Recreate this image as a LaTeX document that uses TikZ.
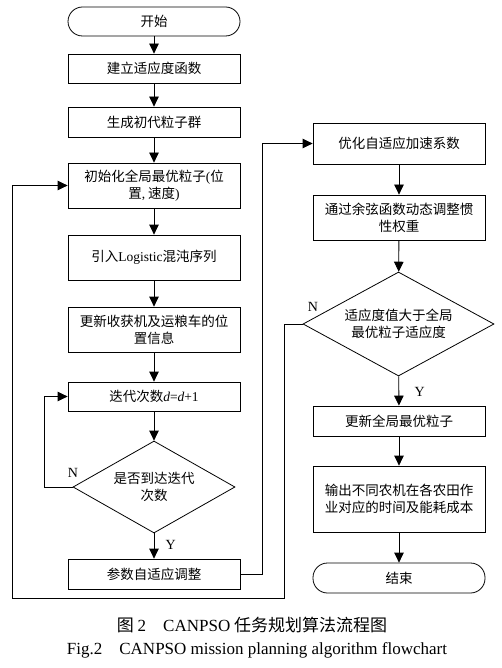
\documentclass[tikz,border=0pt]{standalone}
\usepackage{fontspec}
\setmainfont{Liberation Serif}
\newfontfamily\cjk{Noto Sans CJK SC}
\usetikzlibrary{shapes.geometric, arrows.meta}

\tikzset{
  proc/.style={draw, line width=0.8pt, minimum width=172pt, minimum height=30pt,
    inner sep=2pt, align=center, font=\cjk\fontsize{13.5}{17}\selectfont},
  term/.style={proc, rounded corners=14.5pt},
  decide/.style={draw, diamond, line width=0.8pt, aspect=1.76, inner sep=0pt,
    align=center, font=\cjk\fontsize{13.5}{17}\selectfont},
  flow/.style={->, line width=0.8pt},
  yn/.style={font=\fontsize{14}{16}\selectfont}
}

\begin{document}
\begin{tikzpicture}[x=1pt, y=-1pt, >={Triangle[length=10pt,width=9.5pt]}]
  \useasboundingbox (0,0) rectangle (502,668);
  % left column
  \node[term, minimum height=29pt] (start) at (154,21.5) {开始};
  \node[proc, minimum height=29pt] (fit) at (154,68.5) {建立适应度函数};
  \node[proc] (init) at (154,122) {生成初代粒子群};
  \node[proc, minimum height=45pt] (gbest) at (154,185.5) {初始化全局最优粒子{\rmfamily (}位\\置{\rmfamily ,} 速度{\rmfamily )}};
  \node[proc, minimum height=45pt] (chaos) at (154,257.5) {引入{\rmfamily Logistic}混沌序列};
  \node[proc, minimum height=45pt] (pos) at (154,329.5) {更新收获机及运粮车的位\\置信息};
  \node[proc, minimum height=29pt] (iter) at (154,396.5) {迭代次数{\rmfamily\itshape d}{\rmfamily =}{\rmfamily\itshape d}{\rmfamily +1}};
  \node[decide, minimum width=162pt, minimum height=92pt] (stop) at (154,487) {是否到达迭代\\次数};
  \node[proc] (param) at (154,574) {参数自适应调整};

  % right column
  \node[proc, minimum height=41pt] (accel) at (399,143.5) {优化自适应加速系数};
  \node[proc, minimum height=45pt] (inertia) at (399,217.5) {通过余弦函数动态调整惯\\性权重};
  \node[decide, minimum width=191pt, minimum height=104pt] (better) at (398.5,324) {适应度值大于全局\\最优粒子适应度};
  \node[proc] (upd) at (399,421) {更新全局最优粒子};
  \node[proc, minimum height=66pt] (out) at (399,499) {输出不同农机在各农田作\\业对应的时间及能耗成本};
  \node[term] (stopend) at (399,578) {结束};

  \draw[flow] (start) -- (fit);
  \draw[flow] (fit) -- (init);
  \draw[flow] (init) -- (gbest);
  \draw[flow] (gbest) -- (chaos);
  \draw[flow] (chaos) -- (pos);
  \draw[flow] (pos) -- (iter);
  \draw[flow] (iter) -- (stop);
  \draw[flow] (stop) -- node[yn, right, pos=0.45, xshift=8pt] {Y} (param);
  \draw[flow] (stop.west) -- ++(-28,0) |- (iter.west);
  \node[yn] (n1) at (73,473) {N};

  \draw[flow] (param.east) -- ++(22,0) |- (accel.west);
  \draw[flow] (accel) -- (inertia);
  \draw[flow] (inertia) -- (better);
  \draw[flow] (better) -- node[yn, right, pos=0.55, xshift=12pt] {Y} (upd);
  \draw[flow] (upd) -- (out);
  \draw[flow] (out) -- (stopend);

  % N branch back to the start of the loop
  \coordinate (nbot) at (284,598);
  \coordinate (nleft) at (12,598);
  \draw[flow] (better.west) -| (nbot) -- (nleft) |- (gbest.west);
  \node[yn] (n2) at (313,307) {N};

  % caption
  \node[font=\cjk\fontsize{17}{20}\selectfont] (capzh) at (252,625) {图 {\rmfamily 2}\quad{\rmfamily CANPSO} 任务规划算法流程图};
  \node[font=\fontsize{17}{20}\selectfont] (capen) at (257,650) {Fig.2\quad CANPSO mission planning algorithm flowchart};
\end{tikzpicture}
\end{document}
